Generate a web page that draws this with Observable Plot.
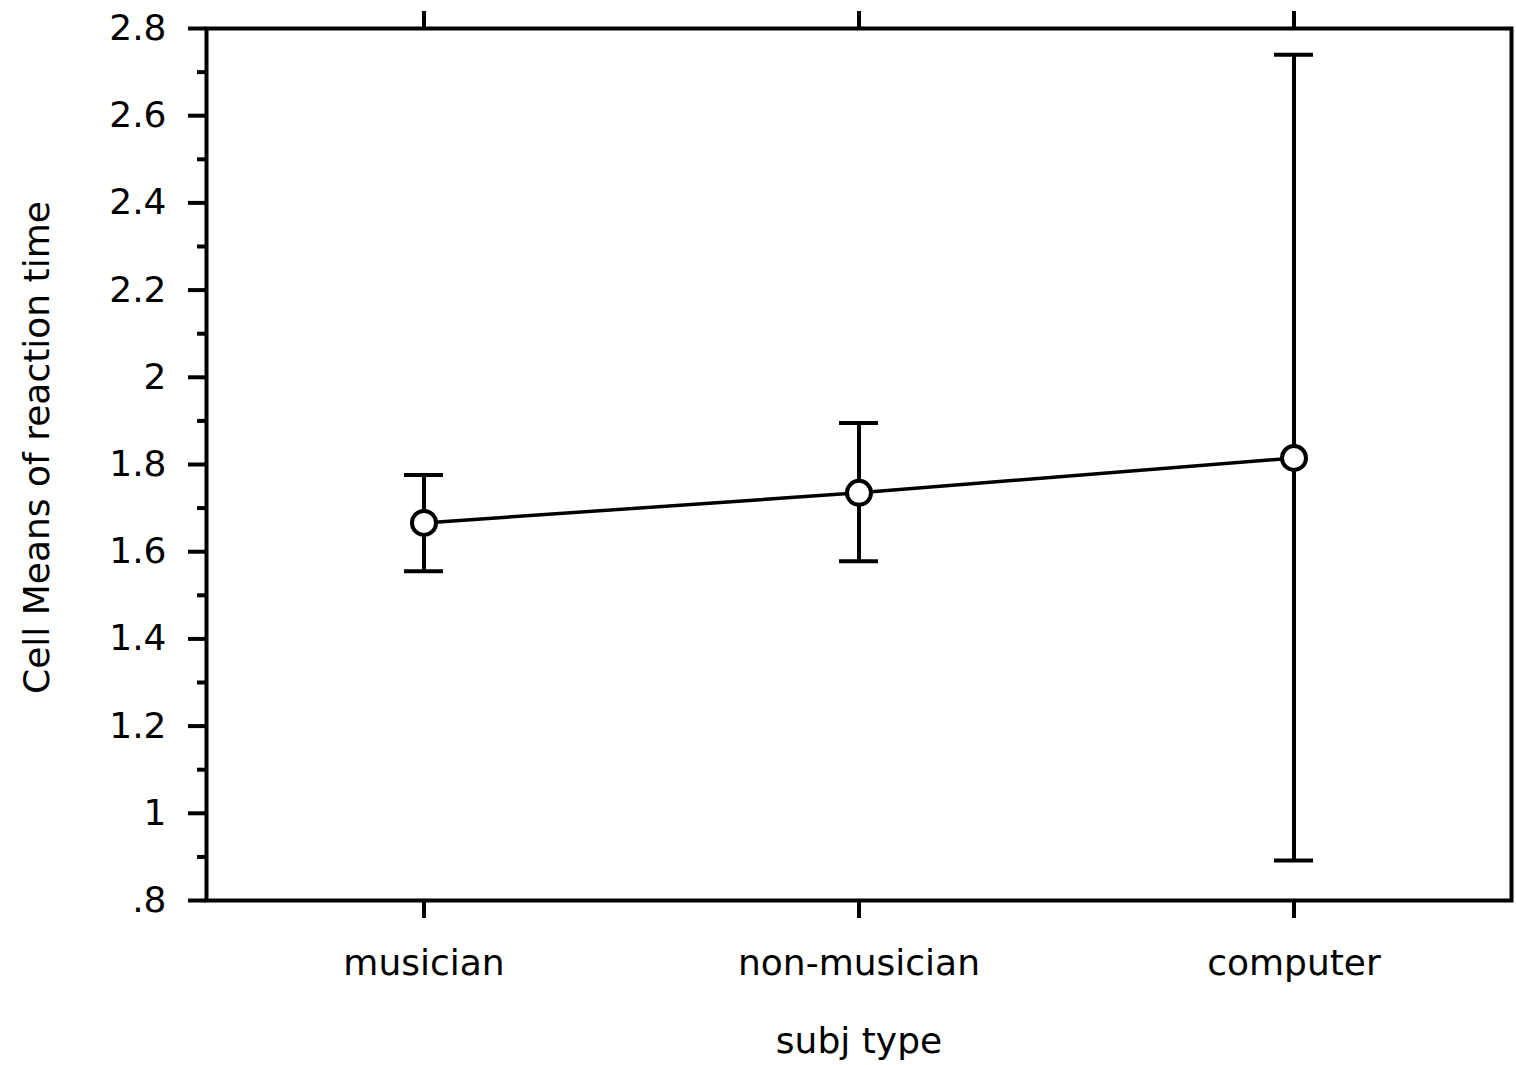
<!DOCTYPE html>
<html><head><meta charset="utf-8">
<script src="https://cdn.jsdelivr.net/npm/d3@7"></script>
<script src="https://cdn.jsdelivr.net/npm/@observablehq/plot@0.6"></script>
<style>html,body{margin:0;padding:0;background:#fff} svg{display:block}</style>
</head><body><div id="chart"></div>
<script>
const categories = ["musician", "non-musician", "computer"];
const means = [1.666, 1.735, 1.815];
const lower = [1.555, 1.578, 0.892];
const upper = [1.776, 1.895, 2.740];
const yTickValues = [0.8, 1, 1.2, 1.4, 1.6, 1.8, 2, 2.2, 2.4, 2.6, 2.8];
const yTickLabels = [".8", "1", "1.2", "1.4", "1.6", "1.8", "2", "2.2", "2.4", "2.6", "2.8"];
const yMinorTicks = [0.9, 1.1, 1.3, 1.5, 1.7, 1.9, 2.1, 2.3, 2.5, 2.7];
const xLabel = "subj type";
const yLabel = "Cell Means of reaction time";

const data = categories.map((c, i) => ({cat: c, mean: means[i], lo: lower[i], hi: upper[i]}));
const font = "DejaVu Sans";
const fs = 36;
const sw = 4;

const plot = Plot.plot({
  width: 1516, height: 1065,
  marginLeft: 206, marginRight: 5, marginTop: 28, marginBottom: 165,
  style: {fontFamily: font, fontSize: fs + "px", color: "#000", background: "#fff", overflow: "visible"},
  x: {type: "band", domain: categories, paddingInner: 0.91, paddingOuter: 0.455, label: null},
  y: {domain: [0.8, 2.8], label: null},
  marks: [
    Plot.frame({strokeWidth: sw, stroke: "#000"}),
    Plot.axisY({ticks: yMinorTicks, tickSize: 9, tickFormat: () => "", strokeWidth: sw, label: null}),
    Plot.axisY({ticks: yTickValues, tickSize: 18, tickPadding: 22, fontSize: fs,
      tickFormat: d => yTickLabels[yTickValues.indexOf(d)], strokeWidth: sw, label: null}),
    Plot.axisX({anchor: "bottom", tickSize: 18, tickPadding: 31, fontSize: fs, strokeWidth: sw, label: null}),
    Plot.axisX({anchor: "top", tickSize: 18, tickFormat: () => "", strokeWidth: sw, label: null}),
    Plot.ruleX(data, {x: "cat", y1: "lo", y2: "hi", strokeWidth: sw, stroke: "#000"}),
    Plot.tickY(data, {x: "cat", y: "lo", strokeWidth: sw, stroke: "#000"}),
    Plot.tickY(data, {x: "cat", y: "hi", strokeWidth: sw, stroke: "#000"}),
    Plot.line(data, {x: "cat", y: "mean", strokeWidth: 3.5, stroke: "#000"}),
    Plot.dot(data, {x: "cat", y: "mean", r: 12, fill: "#fff", stroke: "#000", strokeWidth: sw}),
    Plot.text([xLabel], {text: d => d, frameAnchor: "bottom", dy: 140.5, lineAnchor: "middle", fontSize: fs}),
    Plot.text([yLabel], {text: d => d, frameAnchor: "left", textAnchor: "middle", rotate: -90, dx: -169, dy: -17, lineAnchor: "middle", fontSize: fs})
  ]
});
document.getElementById("chart").appendChild(plot);
</script>
</body></html>
